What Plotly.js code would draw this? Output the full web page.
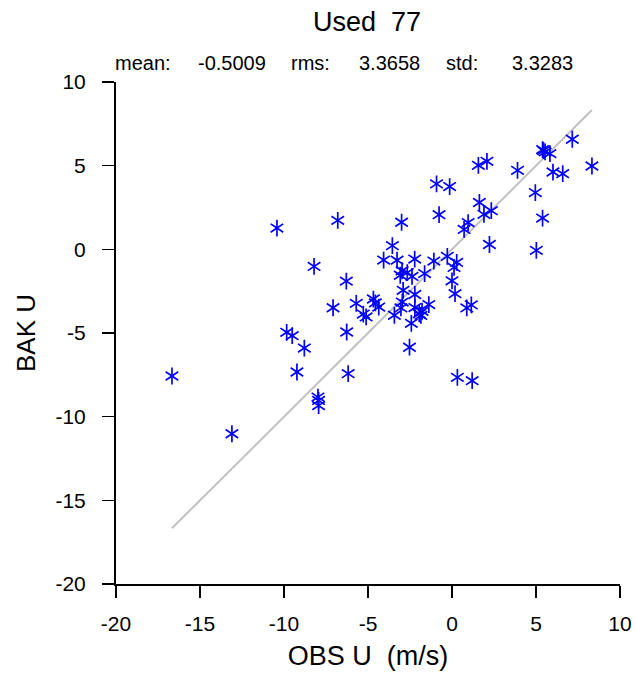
<!DOCTYPE html>
<html>
<head>
<meta charset="utf-8">
<script src="https://cdn.plot.ly/plotly-3.0.1.min.js"></script>
<style>html,body{margin:0;padding:0;background:#fff;}#chart{width:636px;height:675px;}</style>
</head>
<body>
<div id="chart"></div>
<script>
// Observed U (m/s)
var obsU = [
  -16.67, -13.10, -10.42, -9.84, -9.51, -9.23, -8.79, -8.21, -7.98, -7.94,
  -7.94, -7.08, -6.80, -6.29, -6.27, -6.18, -5.70, -5.28, -5.11, -4.68,
  -4.56, -4.36, -4.07, -3.55, -3.43, -3.27, -3.00, -2.97, -2.66, -3.08,
  -2.38, -2.22, -1.63, -2.91, -2.21, -2.96, -3.04, -2.21, -1.38, -1.78,
  -1.95, -2.42, -2.53, -1.08, -0.28, 0.28, 0.12, 0.00, 0.18, 0.88,
  1.15, 0.32, 1.20, -0.92, -0.14, -0.77, 0.96, 0.72, 1.63, 1.90,
  2.34, 1.57, 2.08, 2.23, 3.90, 4.96, 5.02, 5.39, 5.39, 5.54,
  5.83, 6.01, 6.59, 7.16, 8.33, 5.45, -1.85
];
// Background U
var bakU = [
  -7.57, -11.02, 1.27, -4.96, -5.16, -7.33, -5.90, -1.02, -8.83, -9.03,
  -9.34, -3.49, 1.73, -1.90, -4.94, -7.43, -3.23, -3.87, -4.04, -2.97,
  -3.20, -3.45, -0.64, 0.22, -3.94, -0.65, 1.62, -1.28, -1.39, -1.55,
  -1.62, -0.58, -1.45, -2.45, -2.70, -3.15, -3.50, -3.48, -3.30, -3.70,
  -3.85, -4.42, -5.85, -0.70, -0.42, -0.78, -1.08, -1.88, -2.65, -3.50,
  -3.32, -7.65, -7.85, 3.91, 3.75, 2.07, 1.60, 1.19, 2.80, 2.09,
  2.31, 5.02, 5.26, 0.29, 4.72, 3.39, -0.06, 1.87, 5.96, 5.82,
  5.72, 4.62, 4.52, 6.58, 4.98, 5.90, -3.95
];
var titleText = "Used  77";
var statLabels = ["mean:", "-0.5009", "rms:", "3.3658", "std:", "3.3283"];
var statPixelX = [113, 196, 289, 357, 444, 510];
var xTicks = [-20, -15, -10, -5, 0, 5, 10];
var yTicks = [-20, -15, -10, -5, 0, 5, 10];

var lo = Math.min.apply(null, obsU), hi = Math.max.apply(null, obsU);

var FONT = 'Liberation Sans, Arial, Helvetica, sans-serif';
var L = 116, R = 16, T = 82, B = 91, W = 636;
var plotW = W - L - R;

var annotations = statLabels.map(function (s, i) {
  return {
    text: s, xref: 'paper', yref: 'paper',
    x: (statPixelX[i] - L) / plotW, y: 1, yshift: 19,
    xanchor: 'left', yanchor: 'middle', showarrow: false,
    font: {family: FONT, size: 20, color: '#000'}
  };
});

var markerStyle = function (sym) {
  return {symbol: sym, size: 10.5, color: '#0000ff', line: {color: '#0000ff', width: 1.7}};
};

var traces = [
  {
    x: [lo, hi], y: [lo, hi], mode: 'lines', type: 'scatter',
    line: {color: '#c0c0c0', width: 2}, hoverinfo: 'skip', showlegend: false
  },
  {
    x: obsU, y: bakU, mode: 'markers', type: 'scatter', showlegend: false,
    marker: markerStyle('y-up-open')
  },
  {
    x: obsU, y: bakU, mode: 'markers', type: 'scatter', showlegend: false,
    marker: markerStyle('y-down-open'), hoverinfo: 'skip'
  }
];

var layout = {
  width: 636, height: 675,
  margin: {l: L, r: R, t: T, b: B},
  paper_bgcolor: '#fff', plot_bgcolor: '#fff',
  font: {family: FONT, color: '#000'},
  title: {text: titleText, font: {family: FONT, size: 27, color: '#000'}, x: 367 / W, xanchor: 'center', y: 1 - 22 / 675, yanchor: 'middle'},
  xaxis: {
    range: [-20, 10], tickvals: xTicks, ticktext: xTicks.map(String),
    showgrid: false, zeroline: false, showline: true, linecolor: '#000', linewidth: 2,
    ticks: 'outside', ticklen: 12, tickwidth: 1.5, tickcolor: '#000',
    ticklabelstandoff: 8,
    tickfont: {family: FONT, size: 21, color: '#000'},
    title: {text: 'OBS U  (m/s)', font: {family: FONT, size: 27, color: '#000'}, standoff: 12},
    automargin: false
  },
  yaxis: {
    range: [-20, 10], tickvals: yTicks, ticktext: yTicks.map(String),
    showgrid: false, zeroline: false, showline: true, linecolor: '#000', linewidth: 2,
    ticks: 'outside', ticklen: 12, tickwidth: 1.5, tickcolor: '#000',
    ticklabelstandoff: 12,
    tickfont: {family: FONT, size: 21, color: '#000'},
    title: {text: 'BAK U', font: {family: FONT, size: 26, color: '#000'}, standoff: 12},
    automargin: false
  },
  annotations: annotations
};

Plotly.newPlot('chart', traces, layout, {displayModeBar: false, staticPlot: true});
</script>
</body>
</html>
